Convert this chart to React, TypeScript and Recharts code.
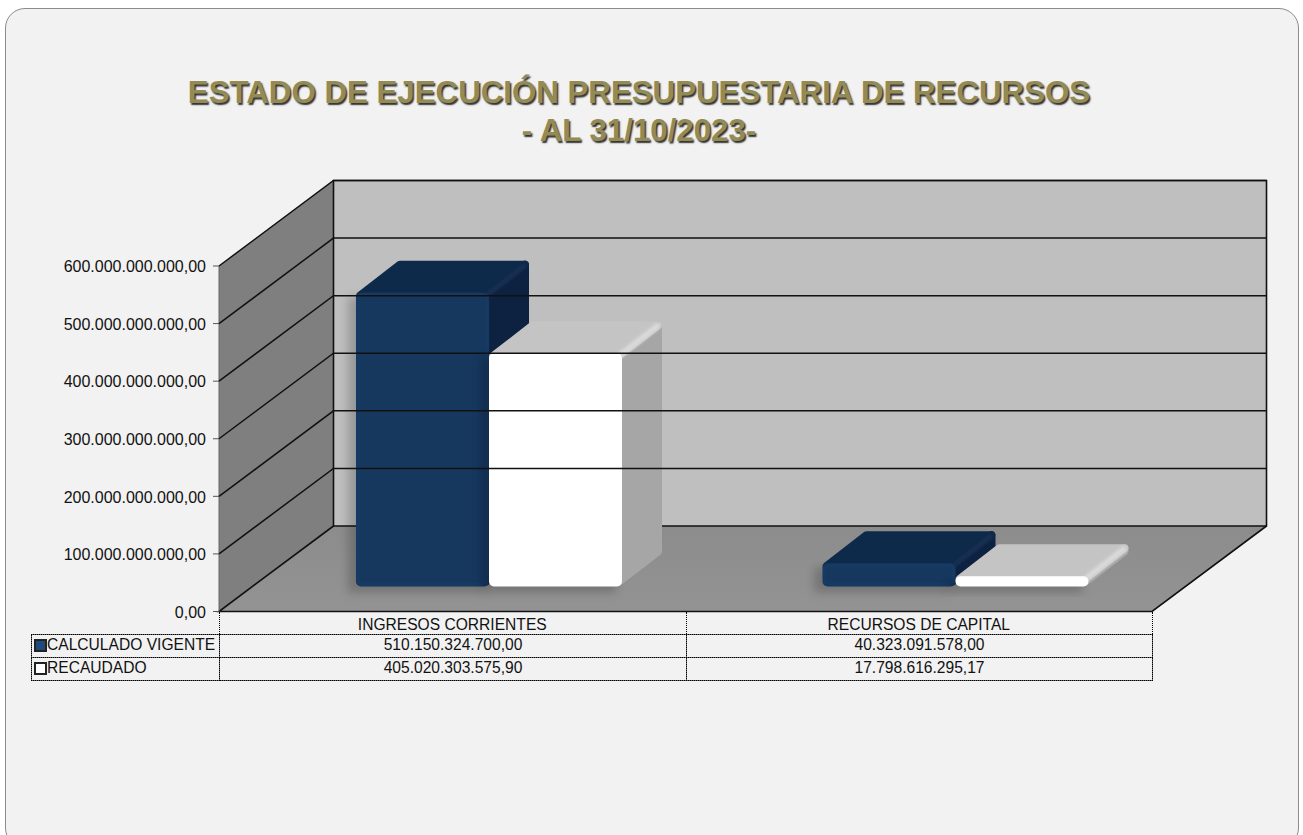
import { BarChart, Bar, XAxis, YAxis, ReferenceArea, ReferenceLine } from 'recharts';

const categories = ['INGRESOS CORRIENTES', 'RECURSOS DE CAPITAL'];
const calculadoVigente = [510150324700.0, 40323091578.0];
const recaudado = [405020303575.9, 17798616295.17];
const yTicks = [0, 100000000000, 200000000000, 300000000000, 400000000000, 500000000000, 600000000000];
const titleLines = ['ESTADO DE EJECUCIÓN PRESUPUESTARIA DE RECURSOS', '- AL 31/10/2023-'];

const chartData = categories.map((name, i) => ({
  name,
  calculado: calculadoVigente[i],
  recaudado: recaudado[i],
}));

const FONT = '"Liberation Sans", Arial, sans-serif';

// depth of the whole 3D box, and where the bars stand inside it
const WALL_DX = 114.5;
const WALL_DY = -85.5;
const BAR_OFFSET_X = 37;
const BAR_OFFSET_Y = -25;
const BAR_DX = 40;
const BAR_DY = -32;

const formatMoney = (v: number) => {
  const [int, dec] = v.toFixed(2).split('.');
  return `${int.replace(/\B(?=(\d{3})+(?!\d))/g, '.')},${dec}`;
};

const pts = (list: number[][]) => list.map((p) => p.join(',')).join(' ');

// floor + left wall + back wall, sized from the plot rectangle
function Walls({ x, y, width, height }: any) {
  const bottom = y + height;
  const right = x + width;
  return (
    <g>
      <defs>
        <filter id="soft" x="-30%" y="-30%" width="160%" height="160%">
          <feGaussianBlur stdDeviation="0.6" />
        </filter>
        <filter id="edgeBlur" x="-30%" y="-30%" width="160%" height="160%">
          <feGaussianBlur stdDeviation="1.6" />
        </filter>
        <filter id="shade" x="-30%" y="-30%" width="160%" height="160%">
          <feGaussianBlur stdDeviation="5" />
        </filter>
        <linearGradient id="floorFill" x1="0" y1="0" x2="0" y2="1">
          <stop offset="0" stopColor="#8c8c8c" />
          <stop offset="1" stopColor="#939393" />
        </linearGradient>
      </defs>
      <polygon
        points={pts([[x + WALL_DX, y + WALL_DY], [right + WALL_DX, y + WALL_DY], [right + WALL_DX, bottom + WALL_DY], [x + WALL_DX, bottom + WALL_DY]])}
        fill="#bfbfbf"
      />
      <polygon
        points={pts([[x, y], [x + WALL_DX, y + WALL_DY], [x + WALL_DX, bottom + WALL_DY], [x, bottom]])}
        fill="#7f7f7f"
      />
      <polygon
        points={pts([[x, bottom], [x + WALL_DX, bottom + WALL_DY], [right + WALL_DX, bottom + WALL_DY], [right, bottom]])}
        fill="url(#floorFill)"
      />
      <path
        d={`M${x + WALL_DX} ${y + WALL_DY}V${bottom + WALL_DY}L${x} ${bottom}H${right}L${right + WALL_DX} ${bottom + WALL_DY}V${y + WALL_DY}Z`}
        fill="none"
        stroke="#111"
        strokeWidth={1.6}
      />
      <path d={`M${x + WALL_DX} ${bottom + WALL_DY}H${right + WALL_DX}`} stroke="#111" strokeWidth={1.6} />
      <path d={`M${x} ${y}V${bottom}`} stroke="#666" strokeWidth={1} />
    </g>
  );
}

// one grid line: diagonal on the left wall, straight on the back wall
function GridLine(props: any) {
  const { x1, y1, x2 } = props;
  return (
    <path
      d={`M${x1} ${y1}L${x1 + WALL_DX} ${y1 + WALL_DY}H${x2 + WALL_DX}`}
      fill="none"
      stroke="#111"
      strokeWidth={1.5}
    />
  );
}

function Box3D({ x, y, width, height, front, top, side, edge, dark }: any) {
  const x0 = x + BAR_OFFSET_X;
  const y0 = y + BAR_OFFSET_Y;
  const r = Math.min(5, height / 2);
  const xr = x0 + width;
  const yb = y0 + height;
  const sideBottom = Math.max(yb - 5, y0 + 3);
  return (
    <g>
      <rect x={x0 - 8} y={y0 + 4} width={width + 2} height={height + 2} fill="#000" opacity={0.2} filter="url(#shade)" />
      <g filter="url(#soft)">
        <polygon
          points={pts([[xr - 3, y0 + 3], [xr + BAR_DX - 4, y0 + BAR_DY + 4], [xr + BAR_DX - 4, sideBottom + BAR_DY + 2], [xr - 3, sideBottom]])}
          fill={side}
          stroke={side}
          strokeWidth={8}
          strokeLinejoin="round"
        />
        <polygon
          points={pts([[x0 + 4, y0 + 3], [x0 + BAR_DX + 4, y0 + BAR_DY + 4], [xr + BAR_DX - 4, y0 + BAR_DY + 4], [xr - 4, y0 + 3]])}
          fill={top}
          stroke={top}
          strokeWidth={8}
          strokeLinejoin="round"
        />
        <path
          d={`M${xr - 1} ${y0 + 1}L${xr + BAR_DX - 5} ${y0 + BAR_DY + 5}`}
          stroke={edge}
          strokeWidth={dark ? 3 : 6}
          strokeLinecap="round"
          opacity={dark ? 0.12 : 0.9}
          filter="url(#edgeBlur)"
        />
        <rect x={x0} y={y0} width={width} height={height} rx={r} ry={r} fill={front} />
        {dark && (
          <rect
            x={x0 + 2}
            y={y0 + 2}
            width={width - 4}
            height={Math.max(height - 4, 1)}
            rx={r}
            ry={r}
            fill="none"
            stroke={edge}
            strokeWidth={2}
            opacity={0.22}
            filter="url(#edgeBlur)"
          />
        )}
      </g>
    </g>
  );
}

const cellBase = {
  position: 'absolute' as const,
  boxSizing: 'border-box' as const,
  border: '1px dotted #000',
  background: 'linear-gradient(#f2f2f2,#f2f2f2) padding-box, #666 border-box',
  fontFamily: FONT,
  fontSize: 15.6,
  lineHeight: '19px',
  color: '#111',
  textAlign: 'center' as const,
  whiteSpace: 'nowrap' as const,
};

const tableRows = [
  { label: 'CALCULADO VIGENTE', values: calculadoVigente, swatch: '#1f497d', top: 634 },
  { label: 'RECAUDADO', values: recaudado, swatch: '#ffffff', top: 657 },
];

const stub = (left: number) => (
  <div
    key={left}
    style={{ position: 'absolute', left, top: 612, width: 1, height: 22, borderLeft: '1px dotted #000', boxSizing: 'border-box' }}
  />
);

function DataTable() {
  return (
    <>
      {tableRows.map((row) => (
        <div key={row.label}>
          <div style={{ ...cellBase, left: 31, top: row.top, width: 189, height: 24, textAlign: 'left', paddingLeft: 15 }}>
            <span
              style={{
                position: 'absolute',
                left: 2,
                top: 4,
                width: 13,
                height: 13,
                boxSizing: 'border-box',
                border: '2.5px solid #222',
                background: row.swatch,
              }}
            />
            {row.label}
          </div>
          {row.values.map((v, i) => (
            <div key={i} style={{ ...cellBase, left: i === 0 ? 219 : 686, top: row.top, width: i === 0 ? 468 : 467, height: 24 }}>
              {formatMoney(v)}
            </div>
          ))}
        </div>
      ))}
      {[219, 686, 1152].map(stub)}
    </>
  );
}

export default function App() {
  return (
    <div style={{ position: 'absolute', left: 0, top: 0, width: 1303, height: 835, overflow: 'hidden', background: '#fff' }}>
      <div
        style={{
          position: 'absolute',
          left: 5,
          top: 8,
          width: 1294,
          height: 840,
          boxSizing: 'border-box',
          background: '#f2f2f2',
          border: '1px solid #8c8c8c',
          borderRadius: 20,
        }}
      />
      <div
        style={{
          position: 'absolute',
          left: 0,
          top: 74,
          width: 1278,
          textAlign: 'center',
          fontFamily: FONT,
          fontWeight: 700,
          fontSize: 31.25,
          lineHeight: '38px',
          color: '#948a54',
          textShadow: '1.5px 1.5px 1.5px rgba(0,0,0,0.8)',
        }}
      >
        {titleLines.map((line) => (
          <div key={line}>{line}</div>
        ))}
      </div>
      <div style={{ position: 'absolute', left: 0, top: 0 }}>
        <BarChart
          width={1303}
          height={835}
          data={chartData}
          margin={{ top: 266, right: 151, left: 19, bottom: 199.5 }}
          barCategoryGap={100}
          barGap={0}
        >
          <ReferenceArea y1={0} y2={600000000000} shape={<Walls />} ifOverflow="visible" />
          {yTicks.slice(1).map((t) => (
            <ReferenceLine key={t} y={t} shape={<GridLine />} ifOverflow="visible" />
          ))}
          <XAxis
            dataKey="name"
            height={24}
            tickLine={false}
            axisLine={false}
            tick={{ fill: '#111', fontSize: 15.6, fontFamily: FONT }}
            tickMargin={1}
            interval={0}
          />
          <YAxis
            width={200}
            domain={[0, 600000000000]}
            ticks={yTicks}
            interval={0}
            tickFormatter={formatMoney}
            axisLine={false}
            tickSize={6}
            tickMargin={7}
            tickLine={{ stroke: '#555' }}
            tick={{ fill: '#111', fontSize: 16, fontFamily: FONT, dy: 0.5 }}
          />
          <Bar
            dataKey="calculado"
            isAnimationActive={false}
            fill="#17375e"
            shape={(p: any) => <Box3D {...p} front="#17375e" top="#112a4b" side="#0e2340" edge="#2f5d96" dark />}
          />
          <Bar
            dataKey="recaudado"
            isAnimationActive={false}
            fill="#ffffff"
            shape={(p: any) => <Box3D {...p} front="#ffffff" top="#c4c4c4" side="#a6a6a6" edge="#dcdcdc" />}
          />
        </BarChart>
      </div>
      <DataTable />
    </div>
  );
}
